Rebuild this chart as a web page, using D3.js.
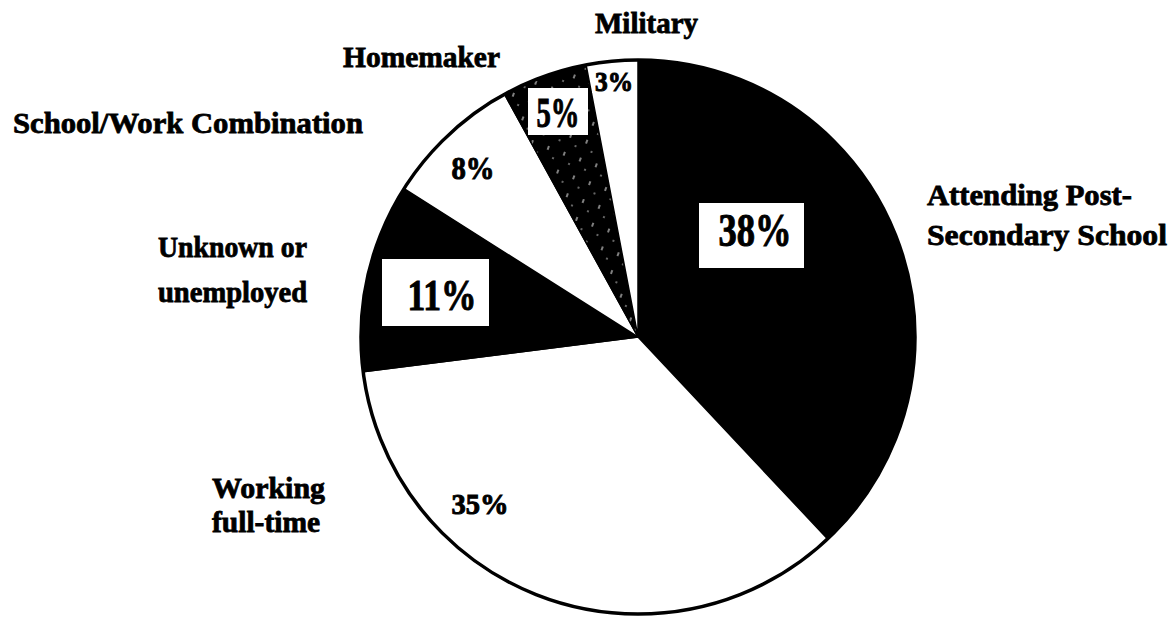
<!DOCTYPE html>
<html>
<head>
<meta charset="utf-8">
<script src="https://cdn.jsdelivr.net/npm/d3@7"></script>
<style>
  html, body { margin: 0; padding: 0; background: #fff; }
  svg text { font-family: "Liberation Serif", "DejaVu Serif", serif; font-weight: bold; fill: #000; }
</style>
</head>
<body>
<script>
/** data, clockwise from 12 o'clock **/
var categories = ["Attending Post-Secondary School", "Working full-time", "Unknown or unemployed",
                  "School/Work Combination", "Homemaker", "Military"];
var values = [38, 35, 11, 8, 5, 3];
var pctLabels = ["38%", "35%", "11%", "8%", "5%", "3%"];
var nameLines = [["Attending Post-", "Secondary School"], ["Working", "full-time"], ["Unknown or", "unemployed"],
                 ["School/Work Combination"], ["Homemaker"], ["Military"]];

// fill per slice
var fills = ["#000", "#fff", "#000", "#fff", "url(#hatch)", "#fff"];

// layout of the labels (x, baseline, width per line; line gap)
var nameLayout = [
  {x: 927, y: 205, gap: 40, w: [205, 240]},
  {x: 212, y: 498, gap: 34, w: [113, 108]},
  {x: 158, y: 257, gap: 45, w: [149, 149]},
  {x: 13,  y: 133, gap: 0,  w: [350]},
  {x: 343, y: 67,  gap: 0,  w: [157]},
  {x: 595, y: 33,  gap: 0,  w: [103]}
];
// percent labels: centre, font size, text width, optional white box
var pctLayout = [
  {cx: 755, cy: 230, fs: 46, w: 73, box: [699, 203, 105, 65]},
  {cx: 480, cy: 503, fs: 30, w: 57, box: null},
  {cx: 442, cy: 294, fs: 45, w: 69, box: [382, 259, 107, 67]},
  {cx: 473, cy: 168, fs: 32, w: 43, box: null},
  {cx: 558, cy: 112, fs: 42, w: 43, box: [528, 88, 60, 47]},
  {cx: 614, cy: 82,  fs: 27, w: 38, box: [592, 67, 45, 26]}
];

var width = 1172, height = 618;
var cx = 638, cy = 337, radius = 277;

var svg = d3.select("body").append("svg")
  .attr("width", width)
  .attr("height", height);

// sparse hatch for the homemaker slice (mostly black, a few white flecks)
var defs = svg.append("defs");
var pat = defs.append("pattern")
  .attr("id", "hatch")
  .attr("patternUnits", "userSpaceOnUse")
  .attr("width", 17).attr("height", 19)
  .attr("patternTransform", "rotate(20)");
pat.append("rect").attr("width", 17).attr("height", 19).attr("fill", "#000");
pat.append("line")
  .attr("x1", 4).attr("y1", 3).attr("x2", 4).attr("y2", 7)
  .attr("stroke", "#fff").attr("stroke-width", 1);
pat.append("line")
  .attr("x1", 12).attr("y1", 12).attr("x2", 12).attr("y2", 14)
  .attr("stroke", "#fff").attr("stroke-width", 0.8);

var pie = d3.pie().sort(null).value(function(d) { return d; });
var arc = d3.arc().innerRadius(0).outerRadius(radius);

var g = svg.append("g").attr("transform", "translate(" + cx + "," + cy + ")");

g.selectAll("path.slice")
  .data(pie(values))
  .enter().append("path")
  .attr("class", "slice")
  .attr("d", arc)
  .attr("fill", function(d, i) { return fills[i]; })
  .attr("stroke", "#000")
  .attr("stroke-width", 1.5)
  .attr("stroke-linejoin", "round");

// outline of the whole pie
g.append("circle")
  .attr("r", radius)
  .attr("fill", "none")
  .attr("stroke", "#000")
  .attr("stroke-width", 3.5);

// percent labels (boxes first, then text)
pctLayout.forEach(function(p, i) {
  if (p.box) {
    svg.append("rect")
      .attr("x", p.box[0]).attr("y", p.box[1])
      .attr("width", p.box[2]).attr("height", p.box[3])
      .attr("fill", "#fff");
  }
  svg.append("text")
    .attr("x", p.cx - p.w / 2)
    .attr("y", p.cy)
    .attr("dy", "0.35em")
    .attr("textLength", p.w)
    .attr("lengthAdjust", "spacingAndGlyphs")
    .style("font-size", p.fs + "px")
    .style("stroke", "#000")
    .style("stroke-width", 1)
    .text(pctLabels[i]);
});

// category names
nameLines.forEach(function(lines, i) {
  var L = nameLayout[i];
  lines.forEach(function(line, j) {
    svg.append("text")
      .attr("x", L.x)
      .attr("y", L.y + j * L.gap)
      .attr("textLength", L.w[j])
      .attr("lengthAdjust", "spacingAndGlyphs")
      .style("font-size", "30px")
      .style("stroke", "#000")
      .style("stroke-width", 0.8)
      .text(line);
  });
});
</script>
</body>
</html>
